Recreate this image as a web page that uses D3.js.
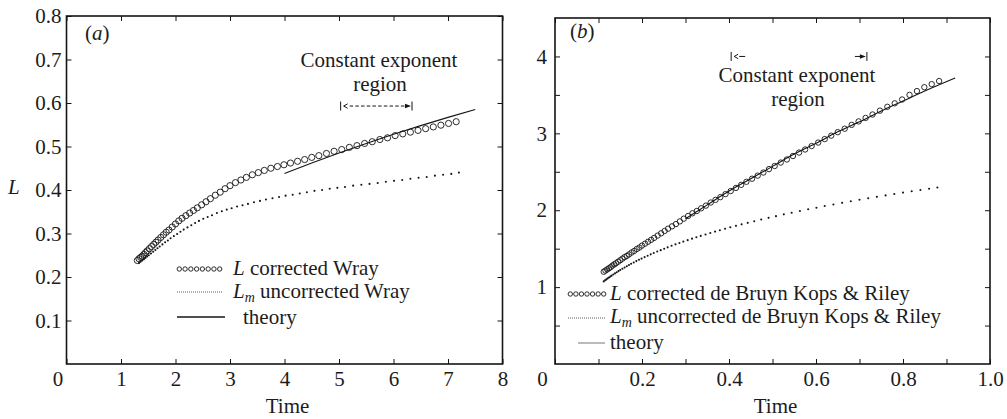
<!DOCTYPE html>
<html>
<head>
<meta charset="utf-8">
<script src="https://cdn.jsdelivr.net/npm/d3@7/dist/d3.min.js"></script>
<style>
  html, body { margin: 0; padding: 0; background: #fff; }
  svg { display: block; }
  svg text { font-family: "Liberation Serif", "DejaVu Serif", "Noto Serif", serif !important; fill: #1c1c1c; }
</style>
</head>
<body>
<svg id="chart" width="1007" height="419"></svg>
<script>
// ---------- Panel (a): Wray ----------
const wrayTime = [1.30,1.33,1.36,1.39,1.42,1.45,1.48,1.52,1.56,1.60,1.64,1.68,1.73,1.78,1.83,1.88,1.94,2.00,2.06,2.12,2.19,2.26,2.33,2.40,2.48,2.56,2.64,2.73,2.82,2.91,3.00,3.10,3.20,3.30,3.41,3.52,3.63,3.75,3.87,3.99,4.11,4.24,4.37,4.50,4.63,4.77,4.91,5.05,5.19,5.33,5.47,5.61,5.75,5.89,6.03,6.17,6.31,6.45,6.59,6.73,6.87,7.01,7.15];
const wrayL = [0.238,0.242,0.245,0.248,0.252,0.256,0.260,0.265,0.270,0.275,0.280,0.285,0.291,0.297,0.303,0.308,0.315,0.322,0.329,0.335,0.341,0.347,0.353,0.359,0.366,0.373,0.380,0.388,0.395,0.403,0.410,0.417,0.423,0.429,0.435,0.440,0.445,0.450,0.454,0.458,0.462,0.466,0.470,0.475,0.479,0.484,0.489,0.493,0.498,0.502,0.507,0.511,0.516,0.520,0.525,0.529,0.533,0.537,0.541,0.545,0.549,0.553,0.557];
const wrayLmTime = [1.33,1.36,1.39,1.42,1.45,1.48,1.51,1.55,1.59,1.63,1.67,1.71,1.76,1.81,1.86,1.91,1.97,2.03,2.09,2.15,2.22,2.29,2.36,2.43,2.51,2.59,2.67,2.76,2.85,2.94,3.03,3.13,3.23,3.33,3.44,3.55,3.66,3.78,3.90,4.02,4.15,4.28,4.41,4.55,4.69,4.83,4.97,5.11,5.26,5.41,5.56,5.71,5.86,6.01,6.16,6.31,6.46,6.61,6.76,6.91,7.06,7.20];
const wrayLm = [0.232,0.235,0.238,0.241,0.244,0.247,0.250,0.254,0.258,0.262,0.266,0.270,0.275,0.280,0.284,0.289,0.294,0.299,0.304,0.309,0.314,0.319,0.324,0.329,0.334,0.338,0.342,0.347,0.351,0.355,0.358,0.362,0.365,0.368,0.372,0.375,0.378,0.381,0.384,0.387,0.389,0.392,0.395,0.398,0.400,0.403,0.405,0.407,0.410,0.412,0.414,0.416,0.419,0.421,0.423,0.426,0.428,0.430,0.433,0.435,0.437,0.440];
const wrayTheoryTime = [4.0,4.5,5.0,5.5,6.0,6.5,7.0,7.5];
const wrayTheory = [0.438,0.462,0.485,0.507,0.528,0.548,0.567,0.585];
const wrayRegion = [5.03, 6.34];
const wrayRegionLevel = 0.593;
const wrayXTicks = [0,1,2,3,4,5,6,7,8];
const wrayXLabels = ["0","1","2","3","4","5","6","7","8"];
const wrayYTicks = [0.1,0.2,0.3,0.4,0.5,0.6,0.7,0.8];
const wrayYLabels = ["0.1","0.2","0.3","0.4","0.5","0.6","0.7","0.8"];

// ---------- Panel (b): de Bruyn Kops & Riley ----------
const kopsTime = [0.112,0.116,0.120,0.124,0.128,0.132,0.136,0.140,0.145,0.150,0.155,0.160,0.165,0.170,0.176,0.182,0.188,0.194,0.200,0.207,0.214,0.221,0.228,0.236,0.244,0.252,0.260,0.269,0.278,0.287,0.296,0.306,0.316,0.326,0.336,0.347,0.358,0.369,0.380,0.392,0.404,0.416,0.428,0.440,0.453,0.466,0.479,0.492,0.505,0.519,0.533,0.547,0.561,0.575,0.590,0.605,0.620,0.635,0.650,0.666,0.682,0.698,0.714,0.730,0.747,0.764,0.781,0.798,0.815,0.832,0.849,0.866,0.883];
const kopsL = [1.200,1.215,1.230,1.245,1.260,1.280,1.295,1.310,1.330,1.350,1.370,1.390,1.405,1.425,1.450,1.470,1.495,1.515,1.540,1.565,1.590,1.615,1.640,1.670,1.700,1.730,1.760,1.790,1.820,1.855,1.890,1.925,1.960,1.990,2.025,2.060,2.100,2.135,2.170,2.210,2.250,2.290,2.330,2.370,2.410,2.450,2.490,2.535,2.575,2.620,2.660,2.705,2.750,2.790,2.835,2.880,2.925,2.970,3.015,3.060,3.110,3.155,3.200,3.245,3.295,3.345,3.390,3.440,3.500,3.550,3.600,3.640,3.680];
const kopsLmTime = [0.112,0.115,0.118,0.121,0.124,0.127,0.130,0.134,0.138,0.142,0.146,0.150,0.155,0.160,0.165,0.170,0.175,0.181,0.187,0.193,0.199,0.206,0.213,0.220,0.227,0.235,0.243,0.251,0.259,0.268,0.277,0.286,0.295,0.305,0.315,0.325,0.335,0.346,0.357,0.368,0.379,0.391,0.403,0.416,0.429,0.443,0.458,0.474,0.491,0.508,0.526,0.544,0.563,0.582,0.601,0.620,0.640,0.660,0.680,0.700,0.720,0.740,0.760,0.780,0.800,0.820,0.840,0.860,0.879];
const kopsLm = [1.074,1.088,1.100,1.113,1.125,1.137,1.149,1.164,1.179,1.194,1.208,1.222,1.239,1.255,1.272,1.287,1.303,1.321,1.338,1.355,1.371,1.390,1.408,1.426,1.443,1.463,1.481,1.499,1.517,1.537,1.556,1.574,1.592,1.611,1.630,1.648,1.666,1.685,1.704,1.722,1.740,1.759,1.778,1.797,1.816,1.836,1.857,1.879,1.901,1.923,1.946,1.967,1.990,2.012,2.033,2.054,2.075,2.096,2.116,2.136,2.155,2.174,2.193,2.211,2.229,2.246,2.263,2.280,2.296];
const kopsTheoryTime = [0.30,0.35,0.40,0.45,0.50,0.55,0.60,0.65,0.70,0.75,0.80,0.85,0.92];
const kopsTheory = [1.89,2.07,2.25,2.41,2.57,2.73,2.87,3.02,3.15,3.29,3.42,3.55,3.72];
const kopsRegion = [0.405, 0.717];
const kopsRegionLevel = 4.0;
const kopsXTicks = [0,0.1,0.2,0.3,0.4,0.5,0.6,0.7,0.8,0.9,1.0];
const kopsXLabels = ["0","","0.2","","0.4","","0.6","","0.8","","1.0"];
const kopsYTicks = [0.5,1,1.5,2,2.5,3,3.5,4];
const kopsYLabels = ["","1","","2","","3","","4"];

const svg = d3.select("#chart");
const INK = "#151515";
const SERIF = '"Liberation Serif","DejaVu Serif","Noto Serif",serif';

function drawPanel(p) {
  const g = svg.append("g");
  const x = d3.scaleLinear().domain(p.xDomain).range([p.left, p.right]);
  const y = d3.scaleLinear().domain(p.yDomain).range([p.bottom, p.top]);

  // inward ticks on all four sides
  const labelOf = (ticks, labels) => d => labels[ticks.indexOf(d)];
  const bottomAxis = g.append("g").attr("transform", `translate(0,${p.bottom})`)
    .call(d3.axisBottom(x).tickValues(p.xTicks).tickSize(-5).tickPadding(7)
      .tickFormat(labelOf(p.xTicks, p.xLabels)));
  g.append("g").attr("transform", `translate(${p.left},0)`)
    .call(d3.axisLeft(y).tickValues(p.yTicks).tickSize(-5).tickPadding(p.yPad)
      .tickFormat(labelOf(p.yTicks, p.yLabels)));
  g.append("g").attr("transform", `translate(0,${p.top})`)
    .call(d3.axisTop(x).tickValues(p.xTicks).tickSize(-5).tickFormat(""));
  g.append("g").attr("transform", `translate(${p.right},0)`)
    .call(d3.axisRight(y).tickValues(p.yTicks).tickSize(-5).tickFormat(""));

  g.selectAll("g").attr("font-family", SERIF);
  g.selectAll(".domain").remove();
  g.selectAll(".tick line").attr("stroke", INK).attr("stroke-width", 1);
  g.selectAll(".tick text").attr("font-size", 21).attr("fill", "#1c1c1c");
  bottomAxis.selectAll(".tick text").filter(d => d === 0).attr("dx", p.zeroShift);

  // frame
  g.append("rect").attr("x", p.left).attr("y", p.top)
    .attr("width", p.right - p.left).attr("height", p.bottom - p.top)
    .attr("fill", "none").attr("stroke", INK).attr("stroke-width", 1.6);

  // uncorrected series: small dots
  g.append("g").selectAll("circle").data(d3.zip(p.lmTime, p.lm)).join("circle")
    .attr("cx", d => x(d[0])).attr("cy", d => y(d[1])).attr("r", 1.05).attr("fill", INK);

  // theory line
  g.append("path").datum(d3.zip(p.theoryTime, p.theory))
    .attr("d", d3.line().x(d => x(d[0])).y(d => y(d[1])).curve(d3.curveMonotoneX))
    .attr("fill", "none").attr("stroke", INK).attr("stroke-width", 1.1);

  // corrected series: open circles
  g.append("g").selectAll("circle").data(d3.zip(p.time, p.L)).join("circle")
    .attr("cx", d => x(d[0])).attr("cy", d => y(d[1])).attr("r", p.r)
    .attr("fill", "none").attr("stroke", INK).attr("stroke-width", 0.9);

  // panel tag
  const tag = g.append("text").attr("x", p.tagPos[0]).attr("y", p.tagPos[1]).attr("font-size", 21);
  tag.append("tspan").text("(");
  tag.append("tspan").attr("font-style", "italic").text(p.tag);
  tag.append("tspan").text(")");

  // x-axis title
  g.append("text").attr("x", (p.left + p.right) / 2 + 3).attr("y", 413)
    .attr("text-anchor", "middle").attr("font-size", 21).text("Time");

  return { g, x, y };
}

// arrow pieces for the constant exponent region marker
function regionMarker(g, x0, x1, yy, full) {
  const put = (sel) => sel.attr("stroke", INK).attr("stroke-width", 1);
  put(g.append("line").attr("x1", x0).attr("x2", x0).attr("y1", yy - 4.5).attr("y2", yy + 4.5));
  put(g.append("line").attr("x1", x1).attr("x2", x1).attr("y1", yy - 4.5).attr("y2", yy + 4.5));
  put(g.append("path").attr("d", `M${x0 + 7},${yy - 2.2}L${x0 + 3},${yy}L${x0 + 7},${yy + 2.2}`).attr("fill", "none"));
  g.append("path").attr("d", `M${x1 - 1},${yy}L${x1 - 7},${yy - 2.3}L${x1 - 7},${yy + 2.3}Z`).attr("fill", INK);
  if (full) {
    put(g.append("line").attr("x1", x0 + 9).attr("x2", x1 - 7).attr("y1", yy).attr("y2", yy)
      .attr("stroke-dasharray", "3.5,2.2"));
  } else {
    put(g.append("line").attr("x1", x0 + 8).attr("x2", x0 + 14).attr("y1", yy).attr("y2", yy));
    put(g.append("line").attr("x1", x1 - 12).attr("x2", x1 - 6).attr("y1", yy).attr("y2", yy));
  }
}

// two-line caption above the region marker
function regionCaption(g, cx, y0, gap) {
  const t = g.append("text").attr("y", y0).attr("text-anchor", "middle").attr("font-size", 21);
  t.append("tspan").attr("x", cx).text("Constant exponent");
  t.append("tspan").attr("x", cx + 1).attr("dy", gap).text("region");
}

function legend(g, items, sx0, sx1) {
  items.forEach(it => {
    if (it.kind === "circles") {
      const n = it.n;
      g.append("g").selectAll("circle").data(d3.range(n)).join("circle")
        .attr("cx", i => sx0 + 2.3 + i * (sx1 - sx0 - 4.6) / (n - 1)).attr("cy", it.y)
        .attr("r", 2.2).attr("fill", "none").attr("stroke", INK).attr("stroke-width", 0.9);
    } else if (it.kind === "dots") {
      g.append("line").attr("x1", sx0).attr("x2", sx1).attr("y1", it.y).attr("y2", it.y)
        .attr("stroke", "#333").attr("stroke-width", 0.9).attr("stroke-dasharray", "0.9,1.1");
    } else {
      g.append("line").attr("x1", it.x0 ?? sx0).attr("x2", it.x1 ?? sx1).attr("y1", it.y).attr("y2", it.y)
        .attr("stroke", it.color || INK).attr("stroke-width", it.w || 1.5);
    }
    const t = g.append("text").attr("x", it.tx).attr("y", it.ty).attr("font-size", 21);
    it.parts.forEach(pt => {
      const sp = t.append("tspan").text(pt.t);
      if (pt.i) sp.attr("font-style", "italic");
      if (pt.sub) sp.attr("font-size", 14).attr("dy", 4);
      if (pt.up) sp.attr("dy", -4);
    });
  });
}

// ---------- panel (a) ----------
const A = drawPanel({
  left: 66.5, right: 502.5, top: 16, bottom: 364,
  xDomain: [0, 8], yDomain: [0, 0.8],
  xTicks: wrayXTicks, xLabels: wrayXLabels, yTicks: wrayYTicks, yLabels: wrayYLabels,
  yPad: 5, zeroShift: -9,
  time: wrayTime, L: wrayL, lmTime: wrayLmTime, lm: wrayLm,
  theoryTime: wrayTheoryTime, theory: wrayTheory, r: 3.1,
  tag: "a", tagPos: [85, 40]
});
svg.append("text").attr("x", 8).attr("y", 194).attr("font-size", 21)
  .attr("font-style", "italic").text("L");
regionMarker(A.g, A.x(wrayRegion[0]), A.x(wrayRegion[1]), A.y(wrayRegionLevel), true);
regionCaption(A.g, 379, 67, 24);
legend(A.g, [
  { kind: "circles", n: 8, y: 269, tx: 233, ty: 275, parts: [{ t: "L", i: true }, { t: " corrected Wray" }] },
  { kind: "dots", y: 292, tx: 233, ty: 298, parts: [{ t: "L", i: true }, { t: "m", i: true, sub: true }, { t: " uncorrected Wray", up: true }] },
  { kind: "line", y: 317, tx: 243, ty: 324, x1: 225, parts: [{ t: "theory" }] }
], 177, 222);

// ---------- panel (b) ----------
const B = drawPanel({
  left: 555, right: 990, top: 18, bottom: 364,
  xDomain: [0, 1], yDomain: [0, 4.5],
  xTicks: kopsXTicks, xLabels: kopsXLabels, yTicks: kopsYTicks, yLabels: kopsYLabels,
  yPad: 8, zeroShift: -13,
  time: kopsTime, L: kopsL, lmTime: kopsLmTime, lm: kopsLm,
  theoryTime: kopsTheoryTime, theory: kopsTheory, r: 2.7,
  tag: "b", tagPos: [570, 38]
});
regionMarker(B.g, B.x(kopsRegion[0]), B.x(kopsRegion[1]), B.y(kopsRegionLevel), false);
regionCaption(B.g, 797, 82, 24);
legend(B.g, [
  { kind: "circles", n: 7, y: 294, tx: 610, ty: 300, parts: [{ t: "L", i: true }, { t: " corrected de Bruyn Kops & Riley" }] },
  { kind: "dots", y: 318, tx: 610, ty: 323, parts: [{ t: "L", i: true }, { t: "m", i: true, sub: true }, { t: " uncorrected de Bruyn Kops & Riley", up: true }] },
  { kind: "line", y: 343, tx: 610, ty: 349, x0: 578, x1: 605, color: "#777", w: 1, parts: [{ t: "theory" }] }
], 568, 606);
</script>
</body>
</html>
